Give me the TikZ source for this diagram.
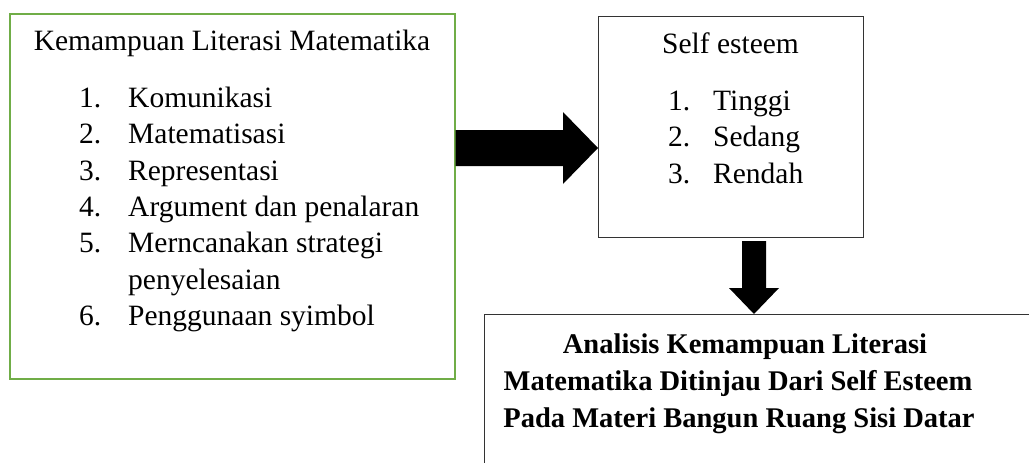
\documentclass[tikz,border=0pt]{standalone}
\usepackage{fontspec}
\setmainfont{Liberation Serif}
\usetikzlibrary{positioning, calc}

\definecolor{litgreen}{HTML}{70AD47}

\begin{document}
\begin{tikzpicture}[x=1pt, y=-1pt,
                box/.style={draw, rectangle, inner sep=0pt, anchor=north west},
                txt/.style={anchor=base west, inner sep=0pt, font=\fontsize{29.5}{36}\selectfont},
                head/.style={anchor=base, inner sep=0pt, font=\fontsize{29.5}{36}\selectfont},
                judul/.style={anchor=base, inner sep=0pt, font=\fontsize{28.5}{36}\selectfont\bfseries}]
                \clip (0,0) rectangle (1029,463);
                \fill[white] (0,0) rectangle (1029,463);

                % Boxes
                \node[box, draw=litgreen, line width=1.6pt, minimum width=445pt, minimum height=365pt] (lit) at (9,13) {};
                \node[box, draw=black!80, line width=1pt, minimum width=265pt, minimum height=221pt] (esteem) at (598,16) {};
                \node[box, draw=black!80, line width=1pt, minimum width=560pt, minimum height=200pt] (hasil) at (484,314) {};

                % Left box text
                \node[head] (lithead) at (232,50) {Kemampuan Literasi Matematika};
                \node[txt] (n1) at (79,107) {1.};
                \node[txt] (t1) at (128,107) {Komunikasi};
                \node[txt] (n2) at (79,143.5) {2.};
                \node[txt] (t2) at (128,143.5) {Matematisasi};
                \node[txt] (n3) at (79,180) {3.};
                \node[txt] (t3) at (128,180) {Representasi};
                \node[txt] (n4) at (79,216) {4.};
                \node[txt] (t4) at (128,216) {Argument dan penalaran};
                \node[txt] (n5) at (79,252.5) {5.};
                \node[txt] (t5) at (128,252.5) {Merncanakan strategi};
                \node[txt] (t5b) at (128,289) {penyelesaian};
                \node[txt] (n6) at (79,325) {6.};
                \node[txt] (t6) at (128,325) {Penggunaan syimbol};

                % Self esteem text
                \node[head] (esthead) at (730.5,53) {Self esteem};
                \node[txt] (s1) at (668,110) {1.};
                \node[txt] (st1) at (713,110) {Tinggi};
                \node[txt] (s2) at (668,146.5) {2.};
                \node[txt] (st2) at (713,146.5) {Sedang};
                \node[txt] (s3) at (668,183) {3.};
                \node[txt] (st3) at (713,183) {Rendah};

                % Result text
                \node[judul] (j1) at (745,353) {Analisis Kemampuan Literasi};
                \node[judul] (j2) at (738,390) {Matematika Ditinjau Dari Self Esteem};
                \node[judul] (j3) at (739,427) {Pada Materi Bangun Ruang Sisi Datar};

                % Block arrows
                \fill (lit.east |- 0,130) -- (563,130) -- (563,112) -- (esteem.west |- 0,148)
                      -- (563,184) -- (563,166) -- (lit.east |- 0,166) -- cycle;
                \fill (742,241) -- (766,241) -- (766,288) -- (779,288) -- (754,0 |- hasil.north)
                      -- (729,288) -- (742,288) -- cycle;
            \end{tikzpicture}
\end{document}
